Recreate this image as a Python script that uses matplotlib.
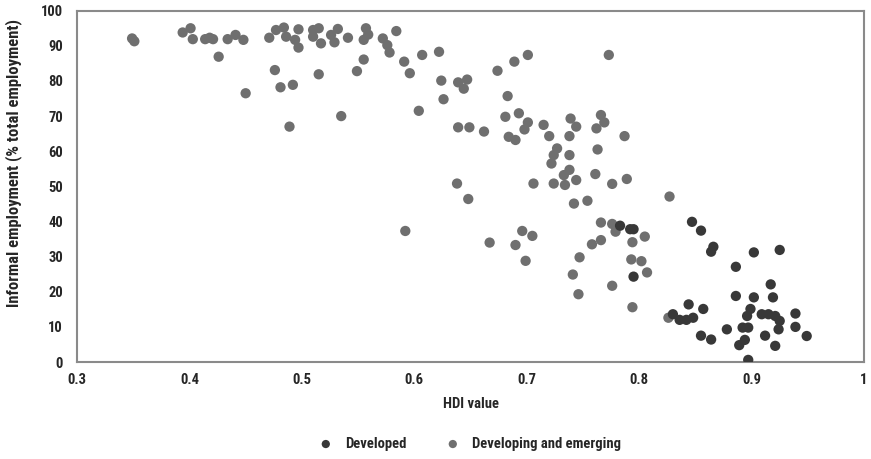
import matplotlib
matplotlib.use("Agg")
import matplotlib.pyplot as plt

plt.rcParams['font.family'] = ['DejaVu Sans Condensed', 'Liberation Sans Narrow',
                               'Roboto Condensed', 'DejaVu Sans']
plt.rcParams['font.stretch'] = 'condensed'

# Developed economies (HDI, informal employment %)
dev_hdi = [0.783, 0.792, 0.795, 0.795, 0.847, 0.855, 0.866, 0.864, 0.902, 0.925,
           0.886, 0.917, 0.886, 0.902, 0.919, 0.844, 0.857, 0.899, 0.896, 0.830,
           0.836, 0.842, 0.848, 0.909, 0.915, 0.921, 0.925, 0.924, 0.939, 0.939,
           0.949, 0.878, 0.892, 0.897, 0.912, 0.855, 0.864, 0.894, 0.889, 0.921,
           0.897]
dev_inf = [38.8, 37.8, 37.8, 24.3, 39.9, 37.4, 32.8, 31.4, 31.2, 31.9,
           27.1, 22.1, 18.8, 18.4, 18.4, 16.4, 15.1, 15.1, 13.1, 13.6,
           12.0, 12.0, 12.6, 13.6, 13.6, 13.1, 11.7, 9.3, 13.8, 10.0,
           7.4, 9.3, 9.8, 9.8, 7.5, 7.5, 6.4, 6.3, 4.8, 4.6,
           0.6]

# Developing and emerging economies
emg_hdi = [0.349, 0.351, 0.394, 0.401, 0.403, 0.414, 0.418, 0.421, 0.426, 0.434,
           0.441, 0.448, 0.450, 0.471, 0.477, 0.484, 0.486, 0.494, 0.497, 0.497,
           0.476, 0.481, 0.489, 0.492, 0.510, 0.515, 0.510, 0.517, 0.526, 0.532,
           0.529, 0.541, 0.515, 0.535, 0.549, 0.555, 0.557, 0.559, 0.555, 0.572,
           0.576, 0.578, 0.584, 0.591, 0.596, 0.607, 0.604, 0.622, 0.624, 0.626,
           0.639, 0.647, 0.644, 0.639, 0.649, 0.662, 0.638, 0.648, 0.674, 0.689,
           0.701, 0.683, 0.681, 0.693, 0.701, 0.698, 0.684, 0.690, 0.715, 0.720,
           0.739, 0.744, 0.738, 0.766, 0.769, 0.762, 0.787, 0.773, 0.727, 0.724,
           0.722, 0.738, 0.763, 0.738, 0.733, 0.734, 0.744, 0.706, 0.724, 0.761,
           0.776, 0.789, 0.742, 0.754, 0.827, 0.592, 0.667, 0.696, 0.705, 0.690,
           0.699, 0.741, 0.746, 0.747, 0.766, 0.776, 0.779, 0.758, 0.766, 0.794,
           0.805, 0.793, 0.802, 0.807, 0.776, 0.794, 0.826]
emg_inf = [92.1, 91.3, 93.8, 95.0, 91.9, 91.9, 92.3, 91.9, 86.9, 91.9,
           93.1, 91.7, 76.5, 92.3, 94.5, 95.2, 92.6, 91.7, 94.7, 89.5,
           83.1, 78.2, 67.0, 78.9, 94.5, 95.0, 92.6, 90.7, 93.1, 94.8,
           91.0, 92.3, 81.9, 70.0, 82.8, 86.1, 95.0, 93.2, 91.7, 92.1,
           90.2, 88.1, 94.2, 85.5, 82.2, 87.4, 71.5, 88.3, 80.1, 74.8,
           79.6, 80.4, 77.8, 66.8, 66.8, 65.6, 50.8, 46.4, 82.9, 85.5,
           87.4, 75.7, 69.8, 70.8, 68.2, 66.2, 64.1, 63.2, 67.5, 64.3,
           69.3, 67.0, 64.3, 70.3, 68.2, 66.5, 64.3, 87.4, 60.8, 58.9,
           56.5, 58.9, 60.5, 54.7, 53.2, 50.4, 51.8, 50.8, 50.8, 53.5,
           50.7, 52.1, 45.1, 45.9, 47.1, 37.3, 34.0, 37.3, 35.9, 33.3,
           28.8, 24.9, 19.3, 29.8, 39.7, 39.3, 37.1, 33.5, 34.7, 34.1,
           35.7, 29.2, 28.7, 25.5, 21.7, 15.6, 12.6]

x_ticks = [0.3, 0.4, 0.5, 0.6, 0.7, 0.8, 0.9, 1.0]
x_ticklabels = ["0.3", "0.4", "0.5", "0.6", "0.7", "0.8", "0.9", "1"]
y_ticks = [0, 10, 20, 30, 40, 50, 60, 70, 80, 90, 100]

dev_color = "#383838"
emg_color = "#6f6f6f"
text_color = "#262626"

fig = plt.figure(figsize=(8.71, 4.59), dpi=100)
ax = fig.add_axes([0.0884, 0.2113, 0.9036, 0.7654])

ax.scatter(dev_hdi, dev_inf, s=55, color=dev_color, edgecolors="none",
           label="Developed", zorder=3)
ax.scatter(emg_hdi, emg_inf, s=55, color=emg_color, edgecolors="none",
           label="Developing and emerging", zorder=2)

ax.set_xlim(0.3, 1.0)
ax.set_ylim(0, 100)
ax.set_xticks(x_ticks)
ax.set_xticklabels(x_ticklabels)
ax.set_yticks(y_ticks)
ax.tick_params(length=0, labelsize=10.5, colors=text_color)
ax.tick_params(axis="y", pad=10)
ax.tick_params(axis="x", pad=8)
for lab in ax.get_xticklabels() + ax.get_yticklabels():
    lab.set_fontweight("semibold")

for sp in ax.spines.values():
    sp.set_color("#8a8a8a")
    sp.set_linewidth(1.5)

ax.set_xlabel("HDI value", fontsize=10.5, fontweight="semibold", color=text_color, labelpad=7)
ax.set_ylabel("Informal employment (% total employment)", fontsize=12,
              fontweight="bold", color=text_color)
ax.yaxis.set_label_coords(-0.070, 0.566)

leg = fig.legend(loc="center", bbox_to_anchor=(0.535, 0.033), ncol=2, frameon=False,
                 fontsize=10.5, handletextpad=0.3, columnspacing=2.2, markerscale=0.8)
for t in leg.get_texts():
    t.set_fontweight("semibold")
    t.set_color(text_color)

fig.savefig("out.png", dpi=100)
